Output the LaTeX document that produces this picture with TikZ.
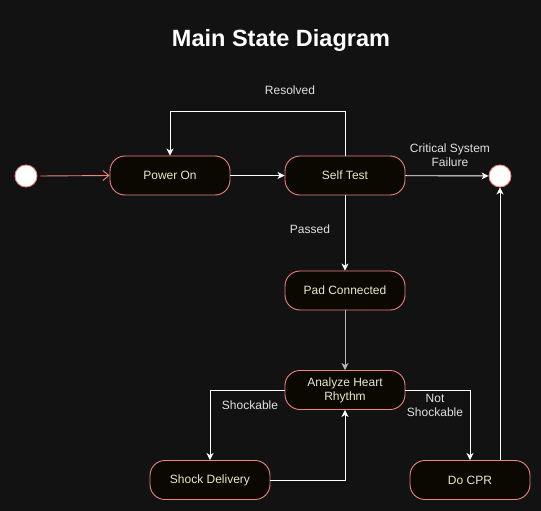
\documentclass[tikz,border=0pt]{standalone}
\usepackage{fontspec}
\setmainfont{Liberation Sans}
\usetikzlibrary{arrows.meta}
\definecolor{bg}{HTML}{121212}
\definecolor{nodefill}{HTML}{0A0800}
\definecolor{salmon}{HTML}{F0847A}
\definecolor{nodetext}{HTML}{E8E8C8}
\definecolor{labeltext}{HTML}{E0E0E0}
\definecolor{midgray}{HTML}{B8B8B8}
\tikzset{
  statebox/.style={draw=salmon, fill=nodefill, line width=0.9pt, rounded corners=15pt,
    minimum width=120pt, minimum height=39pt, text=nodetext, font=\fontsize{12pt}{14pt}\selectfont, align=center, inner sep=0pt},
  endpoint/.style={circle, draw=salmon, fill=white, line width=0.9pt, minimum size=22pt, inner sep=0pt},
  trans/.style={draw=white, line width=0.9pt, -{Stealth[length=7pt,width=7pt,inset=2pt]}},
  lbl/.style={text=labeltext, font=\fontsize{12pt}{14pt}\selectfont, align=center, inner sep=0pt}
}
\begin{document}
\begin{tikzpicture}[x=1pt,y=-1pt]
\fill[bg] (0,0) rectangle (541,511);
\useasboundingbox (0,0) rectangle (541,511);
\node[text=white, font=\bfseries\fontsize{23.5pt}{28pt}\selectfont] (title) at (281,40) {Main State Diagram};

\node[endpoint] (init) at (26,176) {};
\node[endpoint] (final) at (500,176) {};
\node[statebox] (power) at (170,175.5) {Power On};
\node[statebox] (self) at (345,175.5) {Self Test};
\node[statebox] (pad) at (345,290.5) {Pad Connected};
\node[statebox] (analyze) at (345,390) {Analyze Heart\\Rhythm};
\node[statebox] (shock) at (210,480) {Shock Delivery};
\node[statebox] (cpr) at (470,480) {Do CPR};

\coordinate (r1) at (345,111);
\coordinate (r2) at (170,111);

\draw[salmon, line width=0.9pt, -{Straight Barb[length=6pt,width=10pt]}] (init.east) ++(3,0) -- (power.west);
\draw[trans] (power) -- (self);
\draw[trans] (self.north) -- (r1) -- (r2) -- (power.north);
\draw[trans] (self) -- (final);
\draw[trans] (self) -- (pad);
\draw[trans, draw=midgray] (pad) -- (analyze);
\draw[trans] (analyze.west) -| (shock.north);
\draw[trans] (shock.east) -| (analyze.south);
\draw[trans] (analyze.east) -| (cpr.north);
\draw[trans] (cpr.north -| final) -- (final.south);

\node[lbl] (lres) at (290,90) {Resolved};
\node[lbl] (lcrit) at (450,155) {Critical System\\Failure};
\node[lbl] (lpass) at (310,229.5) {Passed};
\node[lbl] (lshock) at (250,405) {Shockable};
\node[lbl] (lnot) at (435,405) {Not\\Shockable};
\end{tikzpicture}
\end{document}
